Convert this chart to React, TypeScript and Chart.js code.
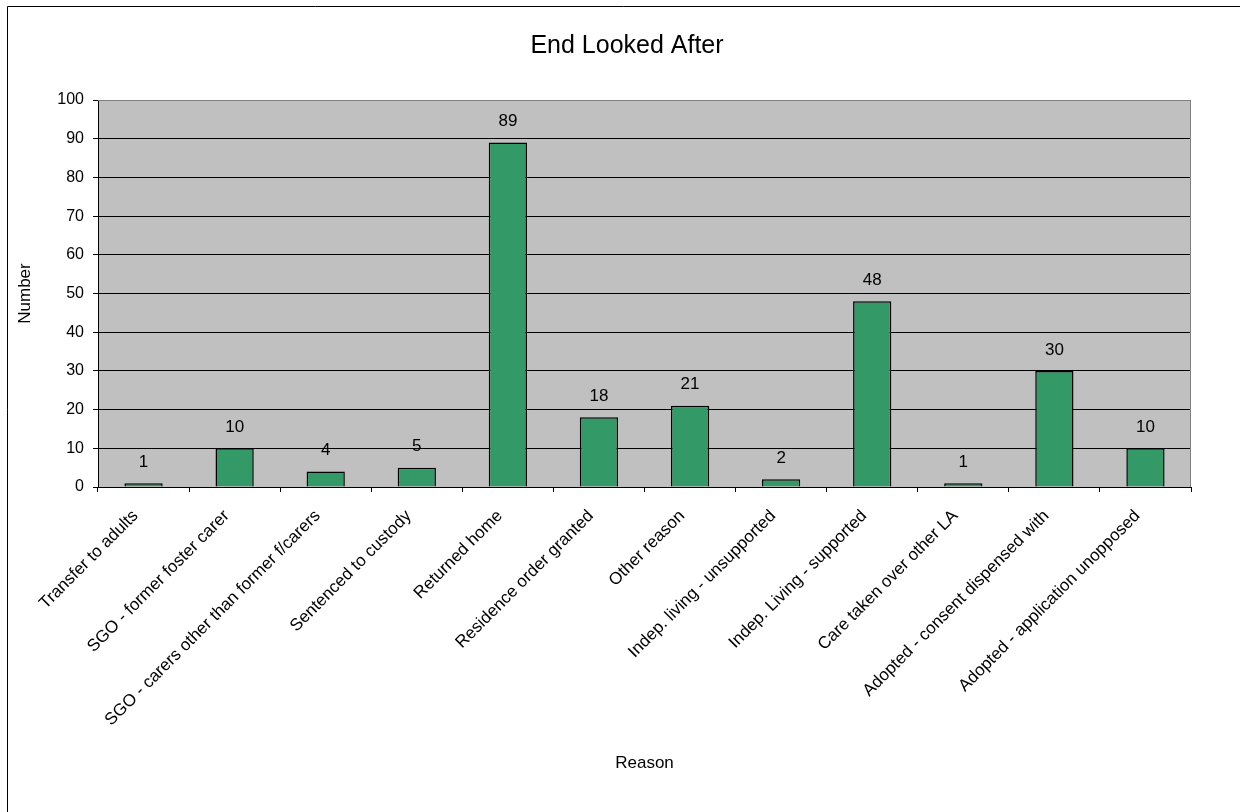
import React, { useEffect, useRef } from "react";
import { Chart, registerables } from "chart.js";

Chart.register(...registerables);

const categories: string[] = [
  "Transfer to adults",
  "SGO - former foster carer",
  "SGO - carers other than former f/carers",
  "Sentenced to custody",
  "Returned home",
  "Residence order granted",
  "Other reason",
  "Indep. living - unsupported",
  "Indep. Living - supported",
  "Care taken over other LA",
  "Adopted - consent dispensed with",
  "Adopted - application unopposed",
];

const values: number[] = [1, 10, 4, 5, 89, 18, 21, 2, 48, 1, 30, 10];

const chartTitle = "End Looked After";
const xTitle = "Reason";
const yTitle = "Number";
const yMin = 0;
const yMax = 100;
const yStep = 10;

const FONT = "'Liberation Sans', Arial, sans-serif";

const W = 1244;
const H = 812;
const PLOT_LEFT = 98;
const PLOT_TOP = 100;
const PLOT_RIGHT = 1191;
const PLOT_BOTTOM = 487;

const framePlugin = {
  id: "frameAndBg",
  beforeDraw(chart: any) {
    const ctx = chart.ctx;
    ctx.save();
    ctx.fillStyle = "#ffffff";
    ctx.fillRect(0, 0, chart.width, chart.height);
    ctx.strokeStyle = "#000000";
    ctx.lineWidth = 1;
    ctx.beginPath();
    ctx.moveTo(7.5, chart.height);
    ctx.lineTo(7.5, 6.5);
    ctx.lineTo(1240, 6.5);
    ctx.stroke();
    const a = chart.chartArea;
    ctx.fillStyle = "#C0C0C0";
    ctx.fillRect(a.left, a.top, a.right - a.left, a.bottom - a.top);
    ctx.fillStyle = "#000000";
    ctx.font = `25px ${FONT}`;
    ctx.textAlign = "center";
    ctx.textBaseline = "alphabetic";
    ctx.fillText(chartTitle, 627, 53);
    ctx.restore();
  },
  beforeDatasetsDraw(chart: any) {
    const ctx = chart.ctx;
    const a = chart.chartArea;
    ctx.save();
    ctx.strokeStyle = "#808080";
    ctx.lineWidth = 1;
    ctx.beginPath();
    ctx.moveTo(a.left, a.top + 0.5);
    ctx.lineTo(a.right - 0.5, a.top + 0.5);
    ctx.lineTo(a.right - 0.5, a.bottom);
    ctx.stroke();
    ctx.restore();
  },
  afterDatasetsDraw(chart: any) {
    const ctx = chart.ctx;
    const meta = chart.getDatasetMeta(0);
    ctx.save();
    ctx.fillStyle = "#000000";
    ctx.font = `17px ${FONT}`;
    ctx.textAlign = "center";
    ctx.textBaseline = "middle";
    meta.data.forEach((bar: any, i: number) => {
      ctx.fillText(String(values[i]), bar.x, bar.y - 21);
    });
    ctx.restore();
  },
};

export default function App() {
  const ref = useRef<HTMLCanvasElement | null>(null);

  useEffect(() => {
    if (!ref.current) return;
    const chart = new Chart(ref.current, {
      type: "bar",
      data: {
        labels: categories,
        datasets: [
          {
            data: values,
            backgroundColor: "#339966",
            borderColor: "#000000",
            borderWidth: 1.5,
            categoryPercentage: 1,
            barPercentage: 0.42,
          },
        ],
      },
      options: {
        responsive: false,
        animation: false,
        layout: {
          padding: { top: PLOT_TOP, left: 0, right: W - PLOT_RIGHT, bottom: 0 },
        },
        plugins: {
          legend: { display: false },
          title: { display: false },
          tooltip: { enabled: false },
        },
        scales: {
          x: {
            offset: true,
            grid: {
              offset: true,
              drawOnChartArea: false,
              drawTicks: true,
              tickLength: 5,
              color: "#000000",
            },
            border: { color: "#000000", width: 1 },
            ticks: {
              autoSkip: false,
              maxRotation: 45,
              minRotation: 45,
              padding: 14,
              labelOffset: -8,
              color: "#000000",
              font: { family: FONT, size: 17 },
            },
            title: {
              display: true,
              text: xTitle,
              color: "#000000",
              font: { family: FONT, size: 17 },
              padding: { top: 0, bottom: 38 },
            },
            afterFit(scale: any) {
              scale.height = H - PLOT_BOTTOM;
            },
          },
          y: {
            min: yMin,
            max: yMax,
            grid: {
              color: (c: any) => (c.tick && c.tick.value === yMax ? "#808080" : "#000000"),
              tickColor: "#000000",
              drawTicks: true,
              tickLength: 5,
              lineWidth: 1,
            },
            border: { color: "#000000", width: 1 },
            ticks: {
              stepSize: yStep,
              padding: 9,
              color: "#000000",
              font: { family: FONT, size: 16 },
            },
            title: {
              display: true,
              text: yTitle,
              color: "#000000",
              font: { family: FONT, size: 17 },
              padding: { top: 15, bottom: 0 },
            },
            afterFit(scale: any) {
              scale.width = PLOT_LEFT;
            },
          },
        },
      },
      plugins: [framePlugin],
    } as any);
    return () => chart.destroy();
  }, []);

  return (
    <canvas
      ref={ref}
      width={W}
      height={H}
      style={{ position: "absolute", left: 0, top: 0, width: W, height: H, display: "block" }}
    />
  );
}
